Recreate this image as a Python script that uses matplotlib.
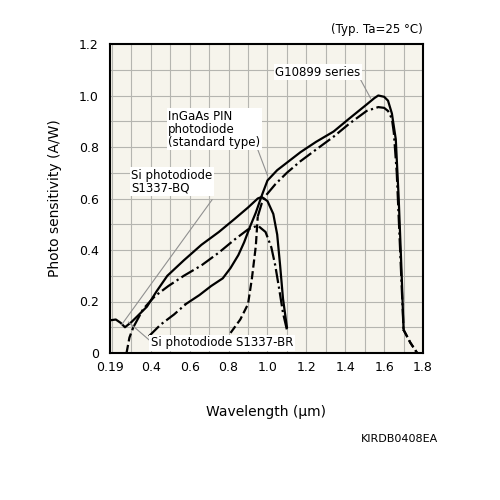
import matplotlib
matplotlib.use("Agg")
import matplotlib.pyplot as plt
import numpy as np

# Si S1337-BQ (solid)
bq_x = [0.19, 0.22, 0.245, 0.267, 0.30, 0.327, 0.38, 0.43, 0.485, 0.57, 0.66, 0.75, 0.83, 0.90, 0.95, 0.97, 1.0, 1.03, 1.05, 1.065, 1.08, 1.1]
bq_y = [0.127, 0.13, 0.117, 0.10, 0.12, 0.14, 0.18, 0.24, 0.30, 0.36, 0.42, 0.47, 0.52, 0.565, 0.60, 0.606, 0.59, 0.54, 0.46, 0.34, 0.21, 0.10]
# Si S1337-BR (dashed start, then dash-dot)
br_dash_x = [0.275, 0.29, 0.31]
br_dash_y = [0.0, 0.06, 0.10]
br_x = [0.31, 0.36, 0.42, 0.49, 0.57, 0.66, 0.75, 0.83, 0.90, 0.95, 0.99, 1.02, 1.04, 1.06, 1.08, 1.1]
br_y = [0.10, 0.17, 0.22, 0.26, 0.30, 0.34, 0.39, 0.44, 0.48, 0.495, 0.47, 0.41, 0.34, 0.25, 0.155, 0.09]
# G10899 series (dash-dot start, solid body, dashed tail)
g_dd_x = [0.39, 0.45, 0.52, 0.58]
g_dd_y = [0.065, 0.11, 0.15, 0.19]
g_x = [0.58, 0.65, 0.71, 0.77, 0.81, 0.85, 0.88, 0.91, 0.94, 0.97, 1.0, 1.05, 1.11, 1.17, 1.25, 1.34, 1.42, 1.51, 1.55, 1.57, 1.60, 1.62, 1.64, 1.66, 1.675, 1.69, 1.70]
g_y = [0.19, 0.225, 0.26, 0.29, 0.33, 0.38, 0.43, 0.49, 0.545, 0.61, 0.67, 0.71, 0.745, 0.78, 0.82, 0.86, 0.91, 0.965, 0.99, 1.0, 0.995, 0.98, 0.93, 0.83, 0.6, 0.31, 0.09]
g_tail_x = [1.70, 1.735, 1.77]
g_tail_y = [0.09, 0.04, 0.0]
# InGaAs PIN standard (dashed start, dash-dot body, dashed tail)
in_dash_x = [0.81, 0.86, 0.90, 0.92, 0.94, 0.95]
in_dash_y = [0.078, 0.13, 0.19, 0.29, 0.415, 0.53]
in_x = [0.95, 0.97, 0.99, 1.04, 1.10, 1.17, 1.25, 1.34, 1.42, 1.51, 1.57, 1.60, 1.62, 1.64, 1.65, 1.665, 1.68, 1.70]
in_y = [0.53, 0.58, 0.61, 0.655, 0.70, 0.745, 0.79, 0.84, 0.89, 0.94, 0.955, 0.952, 0.94, 0.91, 0.855, 0.70, 0.44, 0.09]
in_tail_x = [1.70, 1.735, 1.77]
in_tail_y = [0.09, 0.04, 0.0]

xticks = [0.19, 0.4, 0.6, 0.8, 1.0, 1.2, 1.4, 1.6, 1.8]
xticklabels = ["0.19", "0.4", "0.6", "0.8", "1.0", "1.2", "1.4", "1.6", "1.8"]
yticks = [0, 0.2, 0.4, 0.6, 0.8, 1.0, 1.2]
yticklabels = ["0", "0.2", "0.4", "0.6", "0.8", "1.0", "1.2"]

fig = plt.figure(figsize=(5, 5), dpi=100)
ax = fig.add_axes([0.22, 0.294, 0.626, 0.618])
ax.set_facecolor("#f6f4ec")
ax.set_xlim(0.19, 1.8)
ax.set_ylim(0, 1.2)
for v in np.arange(0.2, 1.8, 0.1):
    ax.axvline(v, color="#b5b5b0", lw=0.8, zorder=0)
for v in np.arange(0.1, 1.2, 0.1):
    ax.axhline(v, color="#b5b5b0", lw=0.8, zorder=0)
for s in ax.spines.values():
    s.set_linewidth(1.5)
ax.set_xticks(xticks)
ax.set_xticklabels(xticklabels, fontsize=9)
ax.set_yticks(yticks)
ax.set_yticklabels(yticklabels, fontsize=9)
ax.tick_params(axis="x", length=0, pad=6)
ax.tick_params(axis="y", length=0, pad=8)

kw = dict(color="black", lw=1.6, zorder=3)
ax.plot(bq_x, bq_y, "-", **kw)
ax.plot(br_dash_x, br_dash_y, "--", **kw)
ax.plot(br_x, br_y, "-.", **kw)
ax.plot(g_dd_x, g_dd_y, "-.", **kw)
ax.plot(g_x, g_y, "-", **kw)
ax.plot(g_tail_x, g_tail_y, "--", **kw)
ax.plot(in_dash_x, in_dash_y, "--", **kw)
ax.plot(in_x, in_y, "-.", **kw)
ax.plot(in_tail_x, in_tail_y, "--", **kw)

lk = dict(color="#909090", lw=0.8, zorder=4)
box = dict(facecolor="white", edgecolor="none", pad=1)
ax.plot([1.48, 1.53], [1.06, 0.99], **lk)
ax.text(1.26, 1.09, "G10899 series", fontsize=8.5, ha="center", va="center", bbox=box, zorder=5)
ax.plot([0.94, 1.0], [0.81, 0.69], **lk)
ax.text(0.49, 0.945, "InGaAs PIN\nphotodiode\n(standard type)", fontsize=8.5, ha="left", va="top",
        linespacing=1.0, bbox=box, zorder=5)
ax.plot([0.715, 0.25], [0.595, 0.11], **lk)
ax.text(0.30, 0.715, "Si photodiode\nS1337-BQ", fontsize=8.5, ha="left", va="top",
        linespacing=1.0, bbox=box, zorder=5)
ax.plot([0.40, 0.285], [0.045, 0.12], **lk)
ax.text(0.40, 0.04, "Si photodiode S1337-BR", fontsize=8.5, ha="left", va="center", bbox=box, zorder=5)

ax.set_xlabel("Wavelength (µm)", fontsize=10, labelpad=22)
ax.set_ylabel("Photo sensitivity (A/W)", fontsize=10, labelpad=12)
fig.text(0.845, 0.935, "(Typ. Ta=25 °C)", fontsize=8.5, ha="right")
fig.text(0.80, 0.115, "KIRDB0408EA", fontsize=8, ha="center")
fig.savefig("out.png", dpi=100, facecolor="white")
